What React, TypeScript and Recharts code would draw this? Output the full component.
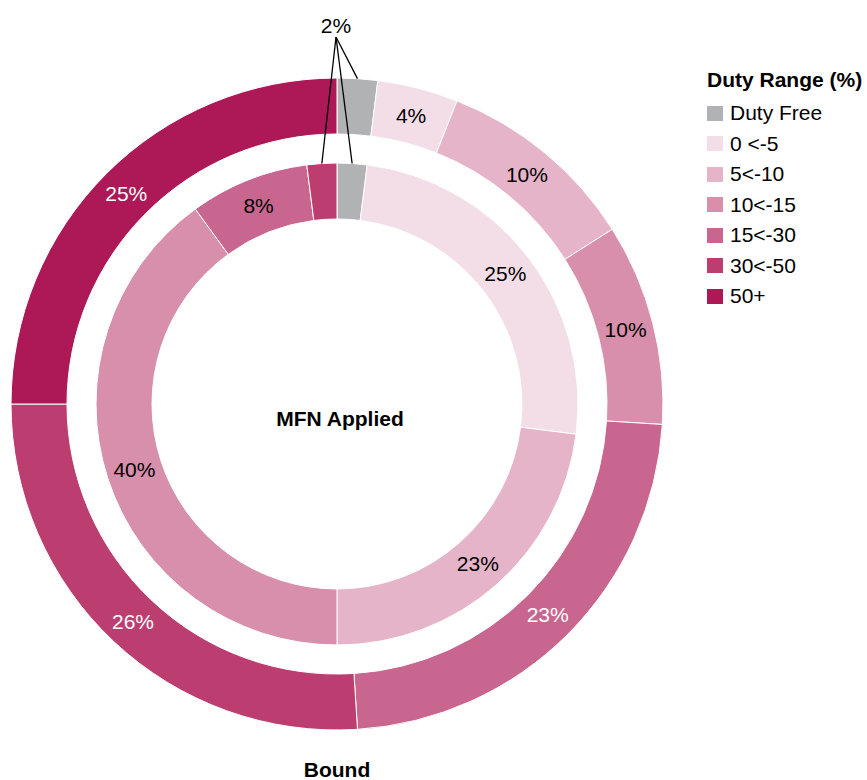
import { PieChart, Pie, Cell, Legend } from 'recharts'

const categories = ['Duty Free', '0 <-5', '5<-10', '10<-15', '15<-30', '30<-50', '50+']
const boundShares = [2, 4, 10, 10, 23, 26, 25]
const appliedShares = [2, 25, 23, 40, 8, 2, 0]

const COLORS = ['#b1b2b4', '#f3dee7', '#e6b4c8', '#d78fab', '#c9668f', '#bc3e70', '#ad1956']
const boundLabelColors = ['#000', '#000', '#000', '#000', '#fff', '#fff', '#fff']
const appliedLabelColors = ['#000', '#000', '#000', '#000', '#000', '#000', '#000']

const boundData = categories.map((name, i) => ({ name, value: boundShares[i] }))
const appliedData = categories.map((name, i) => ({ name, value: appliedShares[i] }))

const FONT = '"Liberation Sans", Arial, sans-serif'
const RADIAN = Math.PI / 180
// where the leader lines of the tiny slices meet
const CALLOUT = { x: 336, y: 37 }

const makeLabel = (textColors: string[], drawCalloutText: boolean) => (props: any) => {
  const { cx, cy, midAngle, innerRadius, outerRadius, value, index } = props
  if (!value) return null
  const cos = Math.cos(-midAngle * RADIAN)
  const sin = Math.sin(-midAngle * RADIAN)
  if (value <= 2) {
    const x = cx + outerRadius * cos
    const y = cy + outerRadius * sin
    return (
      <g key={`callout-${index}`}>
        <line x1={CALLOUT.x} y1={CALLOUT.y} x2={x} y2={y} stroke="#000" strokeWidth={1.3} />
        {drawCalloutText && index === 0 && (
          <text x={CALLOUT.x} y={CALLOUT.y - 12} textAnchor="middle" dominantBaseline="central"
            fill="#000" fontSize={21} fontFamily={FONT}>{`${value}%`}</text>
        )}
      </g>
    )
  }
  const r = (innerRadius + outerRadius) / 2
  return (
    <text key={`label-${index}`} x={cx + r * cos} y={cy + r * sin} textAnchor="middle"
      dominantBaseline="central" fill={textColors[index]} fontSize={21} fontFamily={FONT}>
      {`${value}%`}
    </text>
  )
}

const LegendContent = () => (
  <div style={{ fontFamily: FONT, color: '#000' }}>
    <div style={{ fontWeight: 'bold', fontSize: 21, lineHeight: '24px', marginBottom: 6, whiteSpace: 'nowrap' }}>
      Duty Range (%)
    </div>
    {categories.map((c, i) => (
      <div key={c} style={{ display: 'flex', alignItems: 'center', height: 30.5, fontSize: 21, whiteSpace: 'nowrap' }}>
        <span style={{ width: 16, height: 15, background: COLORS[i], marginRight: 7, display: 'inline-block' }} />
        <span>{c}</span>
      </div>
    ))}
  </div>
)

export default function App() {
  return (
    <div style={{ position: 'absolute', left: 0, top: 0, width: 867, height: 780, background: '#fff' }}>
      <PieChart width={867} height={780} margin={{ top: 0, right: 0, bottom: 0, left: 0 }}>
        <Pie data={boundData} dataKey="value" nameKey="name" cx={337} cy={404}
          innerRadius={270} outerRadius={326} startAngle={90} endAngle={-270}
          stroke="#fff" strokeWidth={1} labelLine={false}
          label={makeLabel(boundLabelColors, true)} isAnimationActive={false}>
          {boundData.map((d, i) => <Cell key={d.name} fill={COLORS[i]} />)}
        </Pie>
        <Pie data={appliedData} dataKey="value" nameKey="name" cx={337} cy={404}
          innerRadius={185} outerRadius={241} startAngle={90} endAngle={-270}
          stroke="#fff" strokeWidth={1} labelLine={false}
          label={makeLabel(appliedLabelColors, false)} isAnimationActive={false}>
          {appliedData.map((d, i) => <Cell key={d.name} fill={COLORS[i]} />)}
        </Pie>
        <Legend content={<LegendContent />}
          wrapperStyle={{ position: 'absolute', left: 707, top: 68, width: 160, right: 'auto', bottom: 'auto' }} />
      </PieChart>
      <div style={{ position: 'absolute', left: 0, top: 406, width: 680, textAlign: 'center',
        fontFamily: FONT, fontWeight: 'bold', fontSize: 21, lineHeight: '26px' }}>
        MFN Applied
      </div>
      <div style={{ position: 'absolute', left: 0, top: 757, width: 674, textAlign: 'center',
        fontFamily: FONT, fontWeight: 'bold', fontSize: 21, lineHeight: '26px' }}>
        Bound
      </div>
    </div>
  )
}
